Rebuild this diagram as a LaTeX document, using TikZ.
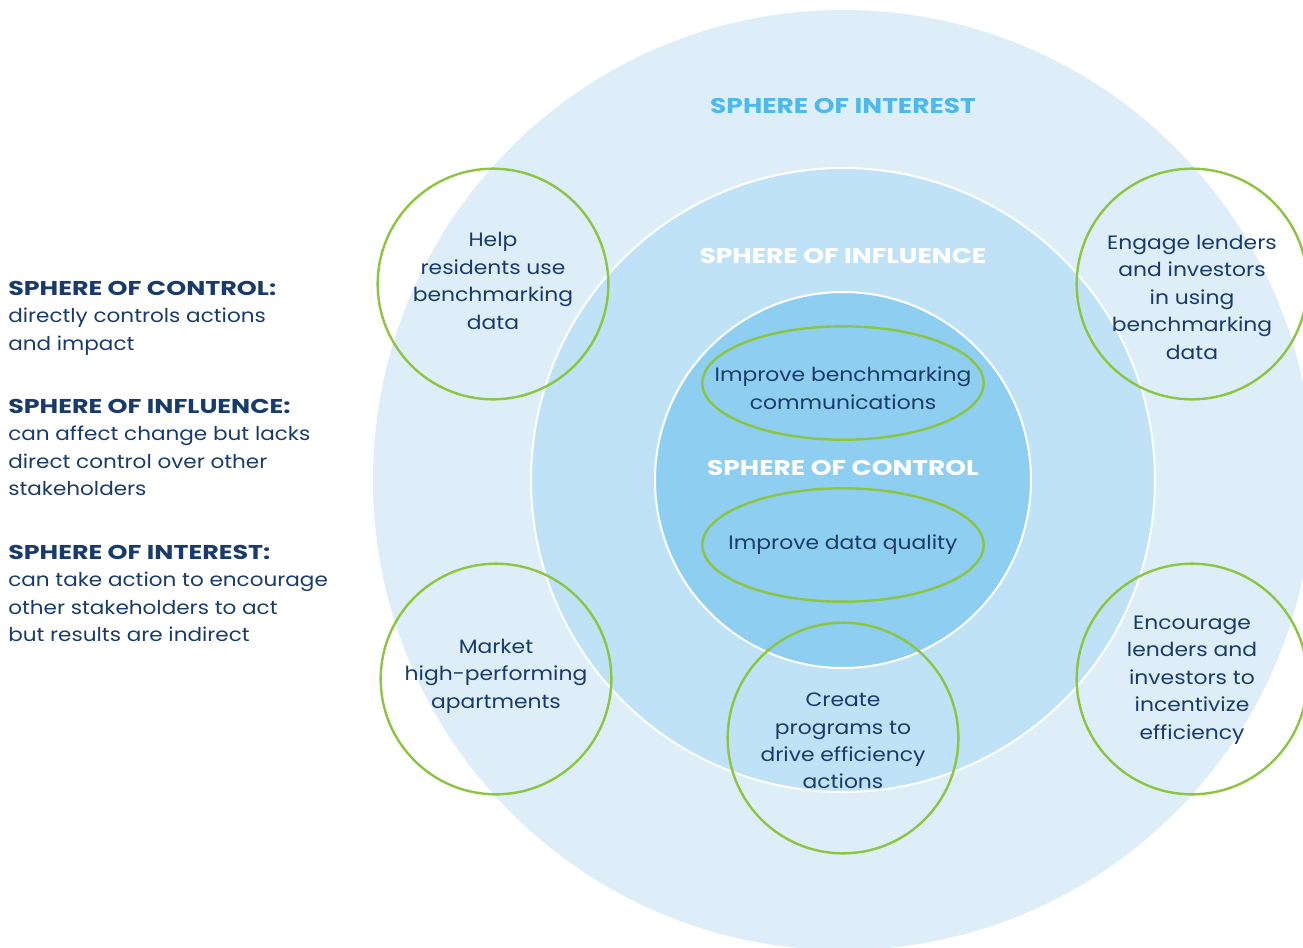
\documentclass[tikz,border=0pt]{standalone}
\usepackage{fontspec}
\setmainfont[FakeStretch=1.13]{Poppins}
\newfontfamily\headfont[FakeStretch=1.27]{Poppins}
\newfontfamily\labelfont[FakeStretch=1.24]{Poppins}
\definecolor{navy}{HTML}{183B6B}
\definecolor{interestc}{HTML}{DDEEF9}
\definecolor{influencec}{HTML}{BFE2F6}
\definecolor{controlc}{HTML}{8ECEF0}
\definecolor{greenc}{HTML}{8CC540}
\definecolor{labelblue}{HTML}{4DB9EA}
\usetikzlibrary{shapes.geometric}
\tikzset{
  sphere/.style={circle, draw=white, line width=1.5pt, inner sep=0pt},
  gcircle/.style={circle, draw=greenc, line width=1.8pt, inner sep=0pt, minimum size=173pt},
  gellipse/.style={ellipse, draw=greenc, line width=1.8pt, inner sep=0pt, minimum width=211pt, minimum height=85pt},
  txt/.style={text=navy, align=center, inner sep=0pt, font=\fontsize{14.5}{20.6}\selectfont},
  lefttxt/.style={text=navy, align=left, anchor=north west, inner sep=0pt, font=\fontsize{14.3}{20.6}\selectfont},
  slabel/.style={inner sep=0pt, font=\labelfont\bfseries\fontsize{16}{18}\selectfont},
}
\newcommand{\hd}[1]{{\headfont\bfseries\fontsize{15}{20.6}\selectfont #1}}
\begin{document}
\begin{tikzpicture}[x=0.75pt,y=-0.75pt]
\useasboundingbox (0,0) rectangle (1303,947);
\clip (0,0) rectangle (1303,947);
% spheres
\node[sphere, fill=interestc, draw=none, minimum size=705pt] (interest) at (843,480) {};
\node[sphere, fill=influencec, minimum size=468pt] (influence) at (843,480) {};
\node[sphere, fill=controlc, minimum size=282pt] (control) at (843,480) {};
% sphere labels
\node[slabel, text=labelblue] (linterest) at (843,106) {SPHERE OF INTEREST};
\node[slabel, text=white] (linfluence) at (843,256) {SPHERE OF INFLUENCE};
\node[slabel, text=white] (lcontrol) at (843,468) {SPHERE OF CONTROL};
% ellipses
\node[gellipse] (ebench) at (843,383) {};
\node[txt] (tbench) at (843,388) {Improve benchmarking\\communications};
\node[gellipse] (equal) at (843,545) {};
\node[txt] (tqual) at (843,545) {Improve data quality};
% green circles
\node[gcircle] (chelp) at (493,284) {};
\node[txt] (thelp) at (493,281) {Help\\residents use\\benchmarking\\data};
\node[gcircle] (cengage) at (1192,284) {};
\node[txt] (tengage) at (1192,297) {Engage lenders\\and investors\\in using\\benchmarking\\data};
\node[gcircle] (cmarket) at (496,679) {};
\node[txt] (tmarket) at (496,676) {Market\\high-performing\\apartments};
\node[gcircle] (cenc) at (1192,679) {};
\node[txt] (tenc) at (1192,680) {Encourage\\lenders and\\investors to\\incentivize\\efficiency};
\node[gcircle] (ccreate) at (843,738) {};
\node[txt] (tcreate) at (843,741) {Create\\programs to\\drive efficiency\\actions};
% left legend
\node[lefttxt] (leg1) at (8,281) {\hd{SPHERE OF CONTROL:}\\directly controls actions\\and impact};
\node[lefttxt] (leg2) at (8,399) {\hd{SPHERE OF INFLUENCE:}\\can affect change but lacks\\direct control over other\\stakeholders};
\node[lefttxt] (leg3) at (8,545) {\hd{SPHERE OF INTEREST:}\\can take action to encourage\\other stakeholders to act\\but results are indirect};
\end{tikzpicture}
\end{document}
